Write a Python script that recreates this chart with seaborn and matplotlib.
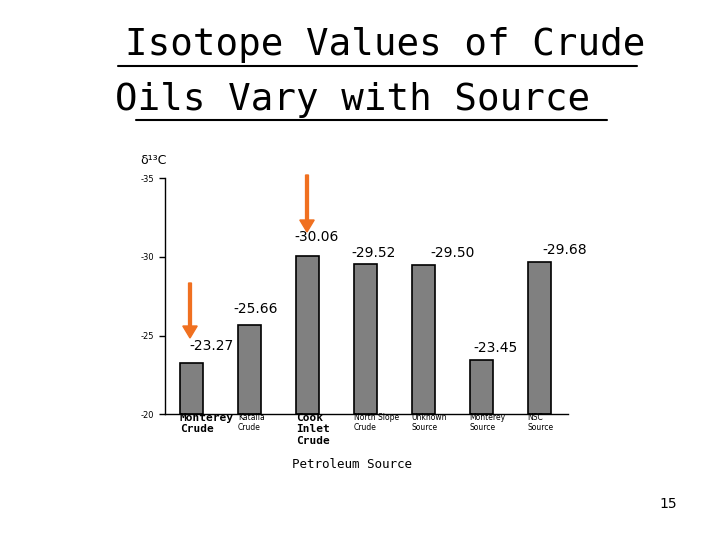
import matplotlib
matplotlib.use("Agg")
import matplotlib.pyplot as plt
import seaborn as sns
import pandas as pd

categories = ["Monterey\nCrude", "Katalla\nCrude", "Cook\nInlet\nCrude", "North Slope\nCrude",
              "Unknown\nSource", "Monterey\nSource", "NSC\nSource"]
values = [-23.27, -25.66, -30.06, -29.52, -29.50, -23.45, -29.68]
value_labels = ["-23.27", "-25.66", "-30.06", "-29.52", "-29.50", "-23.45", "-29.68"]
yticks = [-35, -30, -25, -20]

sns.set_theme(style="white")
plt.rcParams["text.color"] = "black"
plt.rcParams["ytick.color"] = "black"
fig = plt.figure(figsize=(7.2, 5.4), dpi=100)
ax = fig.add_axes([0.229, 0.233, 0.56, 0.437])

df = pd.DataFrame({"cat": range(len(categories)), "h": [v + 20 for v in values]})
for i, h in enumerate(df["h"]):
    ax.bar(i, h, bottom=-20, width=0.4, color="#808080", edgecolor="black", linewidth=1.2)
ax.set_ylim(-20, -35)
ax.set_xlim(-0.46, 6.5)
ax.set_yticks(yticks)
ax.set_yticklabels([str(t) for t in yticks], fontsize=6)
ax.tick_params(axis="y", length=4, direction="out", left=True, width=1, colors="black")
ax.set_xticks([])
for s in ["top", "right"]:
    ax.spines[s].set_visible(False)
for s in ["left", "bottom"]:
    ax.spines[s].set_color("black")
    ax.spines[s].set_linewidth(1)

offsets = [(0.35, -0.6), (0.1, -0.55), (0.15, -0.75), (0.15, -0.3), (0.5, -0.3), (0.25, -0.3), (0.45, -0.3)]
for i, (v, lab) in enumerate(zip(values, value_labels)):
    dx, dy = offsets[i]
    ax.text(i + dx, v + dy, lab, ha="center", va="bottom", fontsize=10, color="black")

for i, c in enumerate(categories):
    big = i in (0, 2)
    ax.text(i - 0.2, -20.1, c, ha="left", va="top",
            fontsize=8 if big else 5.5, fontweight="bold" if big else "normal",
            family="DejaVu Sans Mono" if big else "DejaVu Sans", color="black")

fig.patches.append(matplotlib.patches.FancyArrow(307/720, 1-175/540, 0, -45/540, width=0.004,
                   head_width=0.02, head_length=12/540, color="#f07020", transform=fig.transFigure))
fig.patches.append(matplotlib.patches.FancyArrow(190/720, 1-283/540, 0, -43/540, width=0.004,
                   head_width=0.02, head_length=12/540, color="#f07020", transform=fig.transFigure))

fig.text(140/720, 1-160/540, "δ¹³C", fontsize=9, va="center")
fig.text(352/720, 1-465/540, "Petroleum Source", fontsize=9, ha="center", va="center",
         family="DejaVu Sans Mono")
fig.text(0.5 + 0.035, 1-45/540, "Isotope Values of Crude", fontsize=27, ha="center", va="center",
         family="DejaVu Sans Mono")
fig.text(0.5 - 0.01, 1-100/540, "Oils Vary with Source", fontsize=27, ha="center", va="center",
         family="DejaVu Sans Mono")
fig.lines.append(plt.Line2D([118/720, 637/720], [1-66/540]*2, color="black", lw=1.5, transform=fig.transFigure))
fig.lines.append(plt.Line2D([136/720, 607/720], [1-120/540]*2, color="black", lw=1.5, transform=fig.transFigure))
fig.text(668/720, 1-504/540, "15", fontsize=10, ha="center", va="center")

fig.savefig("out.png", dpi=100)
